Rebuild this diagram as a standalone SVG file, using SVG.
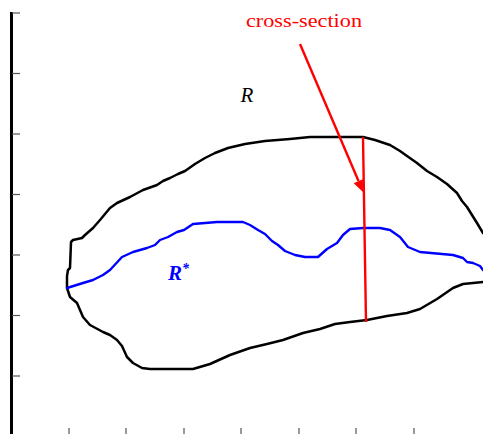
<svg xmlns="http://www.w3.org/2000/svg" width="483" height="434" viewBox="0 0 483 434">
<style>
.tick{stroke:#555;stroke-width:1.2}
.curve{fill:none;stroke-linejoin:round;stroke-linecap:round}
</style>
<rect width="483" height="434" fill="#fff"/>
<g id="axes">
<line x1="11.5" y1="12" x2="11.5" y2="434" stroke="#000" stroke-width="3"/>
<g class="tick">
<line x1="12" y1="13" x2="20" y2="13"/>
<line x1="12" y1="73.5" x2="20" y2="73.5"/>
<line x1="12" y1="134" x2="20" y2="134"/>
<line x1="12" y1="194.5" x2="20" y2="194.5"/>
<line x1="12" y1="255" x2="20" y2="255"/>
<line x1="12" y1="315.5" x2="20" y2="315.5"/>
<line x1="12" y1="376" x2="20" y2="376"/>
<line x1="69" y1="428" x2="69" y2="434"/>
<line x1="126" y1="428" x2="126" y2="434"/>
<line x1="184" y1="428" x2="184" y2="434"/>
<line x1="241" y1="428" x2="241" y2="434"/>
<line x1="299" y1="428" x2="299" y2="434"/>
<line x1="356" y1="428" x2="356" y2="434"/>
<line x1="414" y1="428" x2="414" y2="434"/>
</g>
</g>
<g id="region-R">
<polyline class="curve" stroke="#000" stroke-width="2.5" points="483,233 477,223 472,215 467,207 462,201 457,193 447,184 437,177 427,171 417,163 407,156 400,151 390,145 375,140 363,137 340,137 310,137 290,139 265,141 245,144 228,148 215,153 205,158 195,164 185,171 178,174 170,178 163,181 157,185 143,190 130,197 117,203 110,208 100,220 93,228 85,235 82,238 73,240 71,242 70,268 68,270 67,276 67,288 70,297 77,303 80,310 83,317 90,325 103,332 110,335 117,340 122,346 127,357 133,363 142,368 150,369 193,369 210,364 230,355 250,348 267,344 283,340 303,333 320,329 335,324 350,322 367,320 387,316 407,313 420,309 437,299 453,288 463,284 483,282"/>
<text x="247" y="102" font-family="'Liberation Serif', serif" font-style="italic" font-size="21" text-anchor="middle" fill="#000">R</text>
</g>
<g id="region-Rstar">
<polyline class="curve" stroke="#0000ff" stroke-width="2.4" points="67,288 83,283 93,280 103,275 110,270 122,257 133,252 147,248 155,245 160,240 168,237 177,232 184,230 193,224 217,222 243,222 250,225 258,230 265,234 272,241 278,245 285,251 295,255 305,257 318,257 327,249 337,243 343,235 350,229 363,228 380,228 390,230 400,237 408,247 420,252 453,255 463,258 467,262 473,263 480,266 483,270"/>
<text x="168" y="280" font-family="'Liberation Serif', serif" font-style="italic" font-weight="bold" font-size="21" fill="#0000ff">R<tspan font-size="14" dy="-7">*</tspan></text>
</g>
<g id="cross-section">
<line x1="363" y1="137" x2="366" y2="322" stroke="#ff0000" stroke-width="2.4"/>
<text x="304" y="27" font-family="'Liberation Serif', serif" font-size="18" text-anchor="middle" fill="#ff0000" textLength="116" lengthAdjust="spacingAndGlyphs">cross-section</text>
</g>
<g id="connectors">
<line x1="300" y1="44" x2="358.5" y2="181" stroke="#ff0000" stroke-width="2.4"/>
<polygon points="363,192 353.7,183.2 362.9,179.2" fill="#ff0000"/>
</g>
</svg>
